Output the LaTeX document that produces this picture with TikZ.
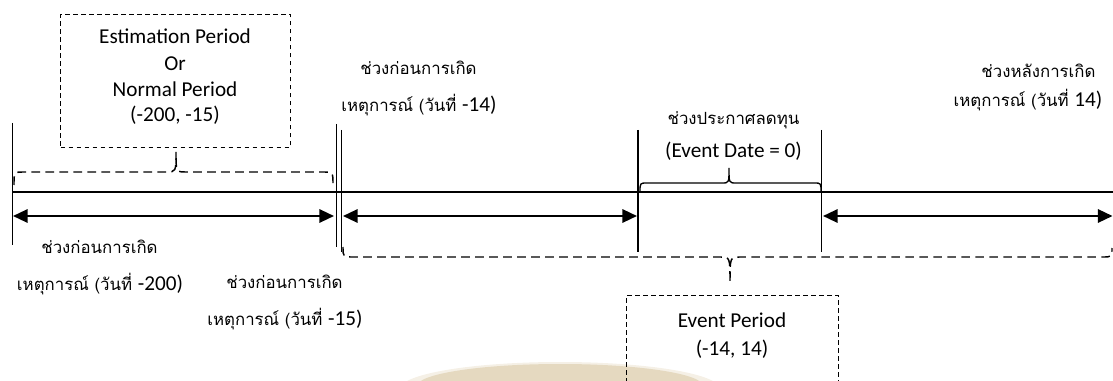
\documentclass[tikz,border=0pt]{standalone}
\usepackage{fontspec}
\setmainfont{Carlito}
\newfontfamily\thaifont[Script=Thai]{Loma}
\usetikzlibrary{arrows.meta}
\definecolor{wmtan}{RGB}{229,217,192}
\definecolor{wmlight}{RGB}{245,240,230}
\newcommand\Num[1]{{\rmfamily\fontsize{15.9}{19}\selectfont #1}}
\tikzset{
  axisline/.style={line width=1.1pt},
  tickline/.style={line width=1.4pt},
  dimarrow/.style={line width=1.7pt, {Triangle[length=11pt,width=10pt]}-{Triangle[length=11pt,width=10pt]}},
  dbrace/.style={line width=1.1pt, dash pattern=on 6.5pt off 4pt},
  sbrace/.style={line width=1pt},
  dbox/.style={draw, line width=0.75pt, dash pattern=on 3.5pt off 2.5pt, inner sep=0pt},
  lat/.style={font=\fontsize{15.9}{19}\selectfont, inner sep=0pt, anchor=base},
  thai/.style={font=\thaifont\fontsize{12.6}{15}\selectfont, inner sep=0pt, anchor=base},
}
\begin{document}
\begin{tikzpicture}[x=0.75pt,y=-0.75pt]
\clip (0,0) rectangle (1113,381);
% watermark
\fill[wmlight] (560,389) ellipse (160 and 27);
\fill[wmtan] (560,386) ellipse (143 and 22);
% main axis
\coordinate (m0) at (12,192);
\coordinate (m1) at (1113,192);
\draw[axisline] (m0) -- (m1);
% ticks
\coordinate (t1a) at (12.5,123);  \coordinate (t1b) at (12.5,245);
\coordinate (t2a) at (336.5,124); \coordinate (t2b) at (336.5,247);
\coordinate (t3a) at (341.5,130); \coordinate (t3b) at (341.5,252);
\coordinate (t4a) at (638,130);   \coordinate (t4b) at (638,252);
\coordinate (t5a) at (821.5,130); \coordinate (t5b) at (821.5,252);
\draw[tickline] (t1a) -- (t1b);
\draw[tickline] (t2a) -- (t2b);
\draw[tickline] (t3a) -- (t3b);
\draw[tickline] (t4a) -- (t4b);
\draw[tickline] (t5a) -- (t5b);
% dimension arrows
\coordinate (a1l) at (13,216);    \coordinate (a1r) at (334,216);
\coordinate (a2l) at (343,216);   \coordinate (a2r) at (637,216);
\coordinate (a3l) at (823,216);   \coordinate (a3r) at (1112.5,216);
\draw[dimarrow] (a1l) -- (a1r);
\draw[dimarrow] (a2l) -- (a2r);
\draw[dimarrow] (a3l) -- (a3r);
% braces
\draw[dbrace] (14,185) .. controls (14,172) .. (24,172) -- (166,172)
  .. controls (176,172) .. (176,152) .. controls (176,172) .. (186,172)
  -- (323,172) .. controls (333,172) .. (333,185);
\draw[sbrace] (640,192) .. controls (640,183) .. (647,183) -- (722,183)
  .. controls (729,183) .. (729,168) .. controls (729,183) .. (736,183)
  -- (814,183) .. controls (821,183) .. (821,192);
\draw[dbrace] (343,247) .. controls (343,257) .. (353,257) -- (720,257)
  .. controls (730,257) .. (730,283) .. controls (730,257) .. (740,257)
  -- (1102,257) .. controls (1112,257) .. (1112,248);
% boxes
\node[dbox, anchor=north west, minimum width=172.5pt, minimum height=99.75pt] (estbox) at (60,14) {};
\node[dbox, anchor=north west, minimum width=159pt, minimum height=94pt] (evbox) at (626,295) {};
% estimation box text
\node[lat] (est1) at (175,44) {Estimation Period};
\node[lat] (est2) at (175,71) {Or};
\node[lat] (est3) at (175,97) {Normal Period};
\node[lat] (est4) at (175,122) {(-200, -15)};
% event period text
\node[lat] (ep1) at (732,327) {Event Period};
\node[lat] (ep2) at (732,355) {(-14, 14)};
% event date
\node[thai] (ed1) at (733.5,125) {ช่วงประกาศลดทุน};
\node[lat] (ed2) at (733.5,158) {(Event Date = 0)};
% thai labels
\node[thai] (p1a) at (418.5,75) {ช่วงก่อนการเกิด};
\node[thai] (p1b) at (419,112) {เหตุการณ์ (วันที่ \Num{-14)}};
\node[thai] (p3a) at (1038.5,78) {ช่วงหลังการเกิด};
\node[thai] (p3b) at (1028,107) {เหตุการณ์ (วันที่ \Num{14)}};
\node[thai] (p4a) at (99.5,253) {ช่วงก่อนการเกิด};
\node[thai] (p4b) at (100,290) {เหตุการณ์ (วันที่ \Num{-200)}};
\node[thai] (p5a) at (284.5,288) {ช่วงก่อนการเกิด};
\node[thai] (p5b) at (285,325) {เหตุการณ์ (วันที่ \Num{-15)}};
\end{tikzpicture}
\end{document}
